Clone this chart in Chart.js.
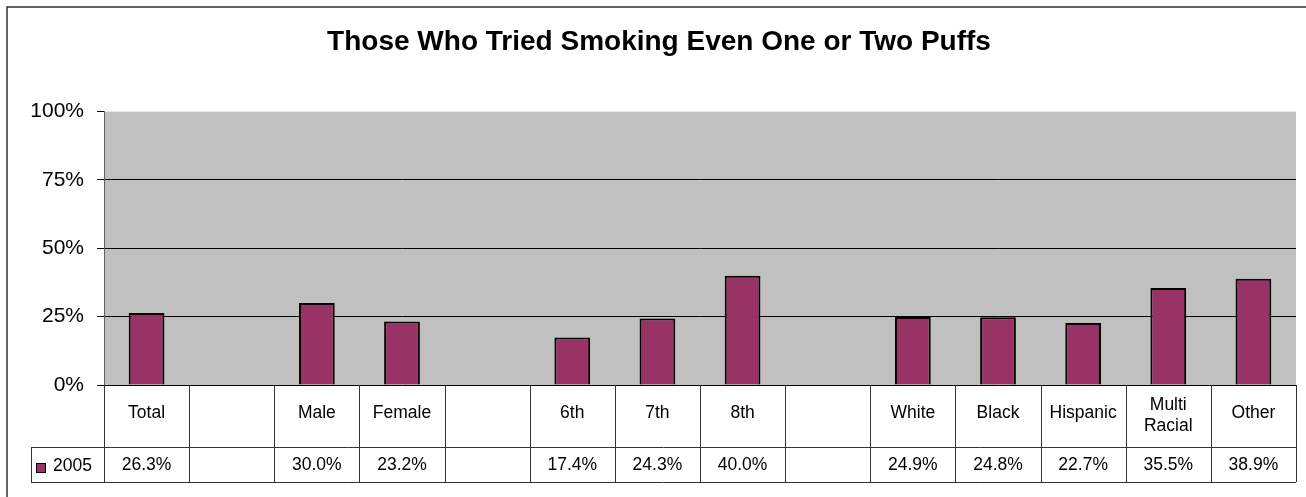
<!DOCTYPE html>
<html>
<head>
<meta charset="utf-8">
<script src="https://cdn.jsdelivr.net/npm/chart.js@4.4.1/dist/chart.umd.min.js"></script>
<style>
  html, body { margin: 0; padding: 0; background: #ffffff; }
  #wrap { width: 1306px; height: 497px; position: relative; }
</style>
</head>
<body>
<div id="wrap"><canvas id="chart" width="1306" height="497"></canvas></div>
<script>
// chart data (blank columns are the empty spacer columns of the table)
const categories = ['Total', '', 'Male', 'Female', '', '6th', '7th', '8th', '', 'White', 'Black', 'Hispanic', ['Multi', 'Racial'], 'Other'];
const values2005 = [26.3, null, 30.0, 23.2, null, 17.4, 24.3, 40.0, null, 24.9, 24.8, 22.7, 35.5, 38.9];
const seriesName = '2005';
const yTicks = [0, 25, 50, 75, 100];

const FONT = "'Liberation Sans', Arial, sans-serif";
const BAR_COLOR = '#993366';

// gray plot background + outer frame
const backdrop = {
    id: 'backdrop',
    beforeDraw(chart) {
        const { ctx, chartArea: a } = chart;
        ctx.save();
        ctx.fillStyle = '#c0c0c0';
        ctx.fillRect(a.left, a.top, a.right - a.left, a.bottom - a.top);
        ctx.strokeStyle = '#303030';
        ctx.lineWidth = 1.5;
        ctx.strokeRect(7, 7, chart.width + 20, chart.height + 20);
        ctx.restore();
    }
};

// Excel style data table under the plot
const dataTable = {
    id: 'dataTable',
    afterDraw(chart) {
        const { ctx, chartArea: a } = chart;
        const x = chart.scales.x;
        const half = (x.getPixelForValue(1) - x.getPixelForValue(0)) / 2;
        const top = a.bottom, mid = top + 62, bot = mid + 35, legLeft = 31;

        ctx.save();
        ctx.strokeStyle = '#333';
        ctx.lineWidth = 1;
        ctx.beginPath();
        ctx.moveTo(legLeft, mid + 0.5); ctx.lineTo(a.right, mid + 0.5);
        ctx.moveTo(legLeft, bot + 0.5); ctx.lineTo(a.right, bot + 0.5);
        ctx.moveTo(legLeft + 0.5, mid); ctx.lineTo(legLeft + 0.5, bot);
        for (let i = 0; i <= categories.length; i++) {
            const px = Math.round(x.getPixelForValue(i) - half) + 0.5;
            ctx.moveTo(px, top); ctx.lineTo(px, bot);
        }
        ctx.stroke();

        ctx.fillStyle = '#000';
        ctx.font = '17.5px ' + FONT;
        ctx.textAlign = 'center';
        ctx.textBaseline = 'middle';
        categories.forEach((c, i) => {
            const cx = x.getPixelForValue(i);
            if (Array.isArray(c)) {
                ctx.fillText(c[0], cx, top + 20);
                ctx.fillText(c[1], cx, top + 41);
            } else {
                ctx.fillText(c, cx, top + 28);
            }
            const v = values2005[i];
            if (v !== null) ctx.fillText(v.toFixed(1) + '%', cx, mid + 18);
        });

        // legend key
        ctx.fillStyle = BAR_COLOR;
        ctx.fillRect(36, mid + 16, 10, 10);
        ctx.strokeStyle = '#000';
        ctx.strokeRect(36.5, mid + 16.5, 9, 9);
        ctx.fillStyle = '#000';
        ctx.textAlign = 'left';
        ctx.fillText(seriesName, 53, mid + 19);
        ctx.restore();
    }
};

new Chart(document.getElementById('chart'), {
    type: 'bar',
    data: {
        labels: categories,
        datasets: [{
            label: seriesName,
            data: values2005,
            backgroundColor: BAR_COLOR,
            borderColor: '#000',
            borderWidth: 2,
            barPercentage: 0.42,
            categoryPercentage: 1
        }]
    },
    options: {
        responsive: false,
        animation: false,
        // left padding keeps the title centred where Excel put it
        layout: { padding: { left: 22, right: 10, top: 10, bottom: 112 } },
        plugins: {
            legend: { display: false },
            tooltip: { enabled: false },
            title: {
                display: true,
                text: 'Those Who Tried Smoking Even One or Two Puffs',
                color: '#000',
                font: { family: FONT, size: 28, weight: 'bold', lineHeight: 1.2 },
                padding: { top: 15, bottom: 53 }
            }
        },
        scales: {
            x: { display: false },
            y: {
                min: 0,
                max: 100,
                afterFit(scale) { scale.width = 82; },
                afterBuildTicks(scale) { scale.ticks = yTicks.map(v => ({ value: v })); },
                ticks: {
                    callback: v => v + '%',
                    color: '#000',
                    padding: 13,
                    font: { family: FONT, size: 21 }
                },
                grid: {
                    color: ctx => (ctx.tick && ctx.tick.value === 100) ? 'rgba(0,0,0,0)' : '#000',
                    tickColor: '#000',
                    tickLength: 7,
                    lineWidth: 1
                },
                border: { color: '#606060', width: 1 }
            }
        }
    },
    plugins: [backdrop, dataTable]
});
</script>
</body>
</html>
